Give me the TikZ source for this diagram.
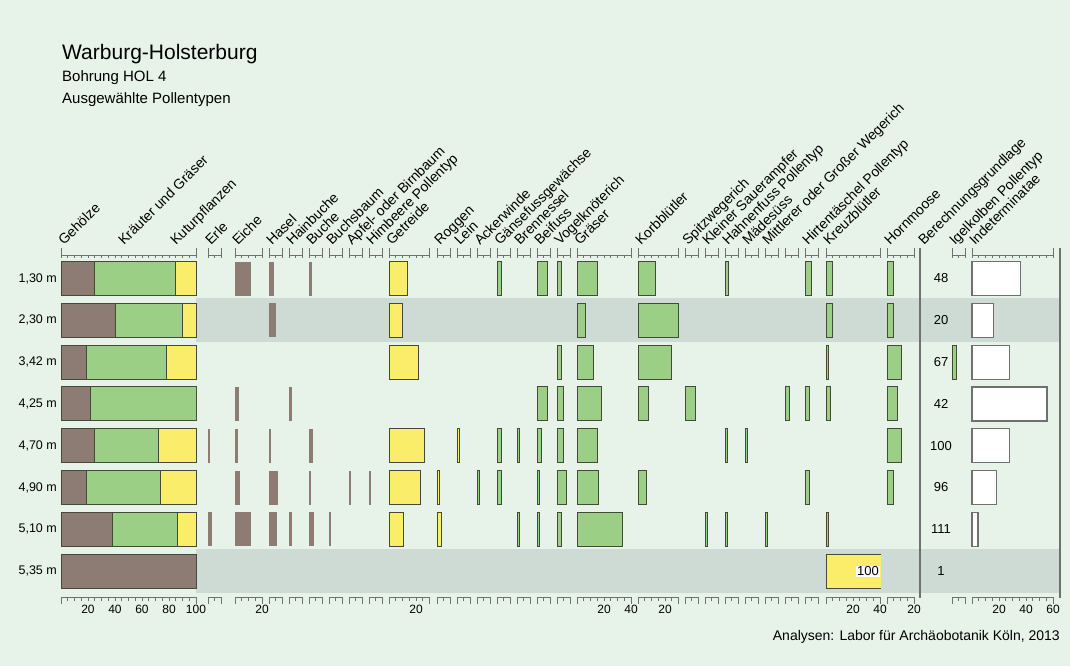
\documentclass[tikz,border=0pt]{standalone}
\usepackage{fontspec}
\setmainfont{Liberation Sans}
\definecolor{fondvert}{RGB}{231,243,233}
\definecolor{bande}{RGB}{206,219,213}
\definecolor{brun}{RGB}{140,124,116}
\definecolor{vert}{RGB}{156,207,134}
\definecolor{jaune}{RGB}{250,237,105}
\definecolor{contour}{RGB}{68,74,56}
\definecolor{gris}{RGB}{112,112,112}
\begin{document}
\begin{tikzpicture}[x=1pt,y=-1pt]
		% Styles (MODIFIABLES)
		\tikzstyle{geh}=[fill=brun,draw=contour,line width=0.9pt]
		\tikzstyle{arbre}=[fill=brun,draw=none]
		\tikzstyle{herbe}=[fill=vert,draw=contour,line width=0.9pt]
		\tikzstyle{culture}=[fill=jaune,draw=contour,line width=0.9pt]
		\tikzstyle{indet}=[fill=white,draw=gris,line width=1.2pt]
		\tikzstyle{axe}=[draw=gris,line width=0.7pt]
		\tikzstyle{separateur}=[draw=gris,line width=1.2pt]
		\tikzstyle{etiquette}=[rotate=45,anchor=base west,inner sep=0pt,font=\fontsize{14}{16}\selectfont]
		\tikzstyle{graduation}=[inner sep=0pt,font=\fontsize{12}{14}\selectfont]
		\tikzstyle{profondeur}=[anchor=east,inner sep=0pt,font=\fontsize{12.5}{14}\selectfont]
		\tikzstyle{nombre}=[inner sep=0pt,font=\fontsize{13}{15}\selectfont]
		% Dimensions (MODIFIABLES)
		\def\Echelle{1.35}
		\def\DemiHauteur{17}
		\def\AxeHaut{255}
		\def\AxeBas{597}
		\def\HautEtiquette{246}
		% Lignes (profondeurs)
		\def\LigneA{278.5}
		\def\LigneB{320.3}
		\def\LigneC{362.1}
		\def\LigneD{403.9}
		\def\LigneE{445.7}
		\def\LigneF{487.5}
		\def\LigneG{529.3}
		\def\LigneH{571.1}
		% Colonnes (pollentypes)
		\def\ColGeh{61}
		\def\ColErle{208}
		\def\ColEiche{235}
		\def\ColHasel{269}
		\def\ColHainbuche{289}
		\def\ColBuche{309}
		\def\ColBuchsbaum{329}
		\def\ColApfel{349}
		\def\ColHimbeere{369}
		\def\ColGetreide{389}
		\def\ColRoggen{437}
		\def\ColLein{457}
		\def\ColAckerwinde{477}
		\def\ColGaensefuss{497}
		\def\ColBrennessel{517}
		\def\ColBeifuss{537}
		\def\ColVogel{557}
		\def\ColGraeser{577}
		\def\ColKorb{638}
		\def\ColSpitz{685}
		\def\ColSauer{705}
		\def\ColHahnen{725}
		\def\ColMaedesuess{745}
		\def\ColWegerich{765}
		\def\ColSansNom{785}
		\def\ColHirten{805}
		\def\ColKreuz{826}
		\def\ColHorn{887}
		\def\ColIgel{952}
		\def\ColIndet{972}
		% Macros (NON MODIFIABLES)
		\def\Barre#1#2#3#4{\draw[#1] ({#2},{#4-\DemiHauteur}) rectangle ({#2+(#3)*\Echelle},{#4+\DemiHauteur});}
		\def\Pile#1#2#3{%
			\draw[geh] ({\ColGeh},{#1-\DemiHauteur}) rectangle ({\ColGeh+#2*\Echelle},{#1+\DemiHauteur});
			\draw[herbe] ({\ColGeh+#2*\Echelle},{#1-\DemiHauteur}) rectangle ({\ColGeh+#3*\Echelle},{#1+\DemiHauteur});
			\draw[culture] ({\ColGeh+#3*\Echelle},{#1-\DemiHauteur}) rectangle ({\ColGeh+100*\Echelle},{#1+\DemiHauteur});}
		\def\Axe#1#2{%
			\draw[axe] (#1,\AxeHaut) -- ({#1+#2*\Echelle},\AxeHaut);
			\draw[axe] (#1,\AxeBas) -- ({#1+#2*\Echelle},\AxeBas);
			\foreach \t in {0,5,...,#2}{%
				\draw[axe] ({#1+\t*\Echelle},\AxeHaut) -- ++(0,3);
				\draw[axe] ({#1+\t*\Echelle},\AxeBas) -- ++(0,4);}
			\draw[axe] (#1,{\AxeHaut-7}) -- ++(0,9);
			\draw[axe] ({#1+#2*\Echelle},{\AxeHaut-7}) -- ++(0,9);
			\draw[axe] (#1,\AxeBas) -- ++(0,7);
			\draw[axe] ({#1+#2*\Echelle},\AxeBas) -- ++(0,7);}
		% Fond et bandes
		\fill[fondvert] (0,0) rectangle (1070,666);
		\fill[bande] (196,{\LigneB-22}) rectangle (1059,{\LigneB+22});
		\fill[bande] (196,{\LigneH-22}) rectangle (1059,{\LigneH+22});
		% Titres
		\node[anchor=base west,inner sep=0pt,font=\fontsize{21}{24}\selectfont] (titre) at (62,60) {Warburg-Holsterburg};
		\node[anchor=base west,inner sep=0pt,font=\fontsize{15}{17}\selectfont] (bohrung) at (62,82) {Bohrung HOL 4};
		\node[anchor=base west,inner sep=0pt,font=\fontsize{15}{17}\selectfont] (auswahl) at (62,103) {Ausgewählte Pollentypen};
		\node[anchor=base east,inner sep=0pt,font=\fontsize{14}{16}\selectfont] (analysen) at (1060,640) {Analysen: Labor für Archäobotanik Köln, 2013};
		% Etiquettes des colonnes
		\node[etiquette] (eGeh) at (64,\HautEtiquette) {Gehölze};
		\node[etiquette] (eKraeuter) at (124,\HautEtiquette) {Kräuter und Gräser};
		\node[etiquette] (eKultur) at (176,\HautEtiquette) {Kuturpflanzen};
		\node[etiquette] (eErle) at ({\ColErle+3},\HautEtiquette) {Erle};
		\node[etiquette] (eEiche) at ({\ColEiche+3},\HautEtiquette) {Eiche};
		\node[etiquette] (eHasel) at ({\ColHasel+3},\HautEtiquette) {Hasel};
		\node[etiquette] (eHainbuche) at ({\ColHainbuche+3},\HautEtiquette) {Hainbuche};
		\node[etiquette] (eBuche) at ({\ColBuche+3},\HautEtiquette) {Buche};
		\node[etiquette] (eBuchsbaum) at ({\ColBuchsbaum+3},\HautEtiquette) {Buchsbaum};
		\node[etiquette] (eApfel) at ({\ColApfel+3},\HautEtiquette) {Apfel- oder Birnbaum};
		\node[etiquette] (eHimbeere) at ({\ColHimbeere+3},\HautEtiquette) {Himbeere Pollentyp};
		\node[etiquette] (eGetreide) at ({\ColGetreide+3},\HautEtiquette) {Getreide};
		\node[etiquette] (eRoggen) at ({\ColRoggen+3},\HautEtiquette) {Roggen};
		\node[etiquette] (eLein) at ({\ColLein+3},\HautEtiquette) {Lein};
		\node[etiquette] (eAckerwinde) at ({\ColAckerwinde+3},\HautEtiquette) {Ackerwinde};
		\node[etiquette] (eGaensefuss) at ({\ColGaensefuss+3},\HautEtiquette) {Gänsefussgewächse};
		\node[etiquette] (eBrennessel) at ({\ColBrennessel+3},\HautEtiquette) {Brennessel};
		\node[etiquette] (eBeifuss) at ({\ColBeifuss+3},\HautEtiquette) {Beifuss};
		\node[etiquette] (eVogel) at ({\ColVogel+3},\HautEtiquette) {Vogelknöterich};
		\node[etiquette] (eGraeser) at ({\ColGraeser+3},\HautEtiquette) {Gräser};
		\node[etiquette] (eKorb) at ({\ColKorb+3},\HautEtiquette) {Korbblütler};
		\node[etiquette] (eSpitz) at ({\ColSpitz+3},\HautEtiquette) {Spitzwegerich};
		\node[etiquette] (eSauer) at ({\ColSauer+3},\HautEtiquette) {Kleiner Sauerampfer};
		\node[etiquette] (eHahnen) at ({\ColHahnen+3},\HautEtiquette) {Hahnenfuss Pollentyp};
		\node[etiquette] (eMaedesuess) at ({\ColMaedesuess+3},\HautEtiquette) {Mädesüss};
		\node[etiquette] (eWegerich) at ({\ColWegerich+3},\HautEtiquette) {Mittlerer oder Großer Wegerich};
		\node[etiquette] (eHirten) at ({\ColHirten+3},\HautEtiquette) {Hirtentäschel Pollentyp};
		\node[etiquette] (eKreuz) at ({\ColKreuz+3},\HautEtiquette) {Kreuzblütler};
		\node[etiquette] (eHorn) at ({\ColHorn+3},\HautEtiquette) {Hornmoose};
		\node[etiquette] (eBerechnung) at (924,\HautEtiquette) {Berechnungsgrundlage};
		\node[etiquette] (eIgel) at ({\ColIgel+3},\HautEtiquette) {Igelkolben Pollentyp};
		\node[etiquette] (eIndet) at ({\ColIndet+3},\HautEtiquette) {Indeterminatae};
		% Axes
		\foreach \x/\w in {\ColGeh/100,\ColErle/10,\ColEiche/20,\ColHasel/10,\ColHainbuche/10,\ColBuche/10,\ColBuchsbaum/10,\ColApfel/10,\ColHimbeere/10,\ColGetreide/30,\ColRoggen/10,\ColLein/10,\ColAckerwinde/10,\ColGaensefuss/10,\ColBrennessel/10,\ColBeifuss/10,\ColVogel/10,\ColGraeser/40,\ColKorb/30,\ColSpitz/10,\ColSauer/10,\ColHahnen/10,\ColMaedesuess/10,\ColWegerich/10,\ColSansNom/10,\ColHirten/10,\ColKreuz/40,\ColHorn/20,\ColIgel/10,\ColIndet/60}{\Axe{\x}{\w}}
		\draw[separateur] (920,248) -- (920,598);
		\draw[separateur] (1060,248) -- (1060,598);
		% Graduations
		\node[graduation] (g1) at (88,609) {20};
		\node[graduation] (g2) at (115,609) {40};
		\node[graduation] (g3) at (142,609) {60};
		\node[graduation] (g4) at (169,609) {80};
		\node[graduation] (g5) at (196,609) {100};
		\node[graduation] (g6) at (262,609) {20};
		\node[graduation] (g7) at (416,609) {20};
		\node[graduation] (g8) at (604,609) {20};
		\node[graduation] (g9) at (631,609) {40};
		\node[graduation] (g10) at (665,609) {20};
		\node[graduation] (g11) at (853,609) {20};
		\node[graduation] (g12) at (880,609) {40};
		\node[graduation] (g13) at (914,609) {20};
		\node[graduation] (g14) at (999,609) {20};
		\node[graduation] (g15) at (1026,609) {40};
		\node[graduation] (g16) at (1053,609) {60};
		% Profondeurs
		\node[profondeur] (pA) at (57,\LigneA) {1,30 m};
		\node[profondeur] (pB) at (57,\LigneB) {2,30 m};
		\node[profondeur] (pC) at (57,\LigneC) {3,42 m};
		\node[profondeur] (pD) at (57,\LigneD) {4,25 m};
		\node[profondeur] (pE) at (57,\LigneE) {4,70 m};
		\node[profondeur] (pF) at (57,\LigneF) {4,90 m};
		\node[profondeur] (pG) at (57,\LigneG) {5,10 m};
		\node[profondeur] (pH) at (57,\LigneH) {5,35 m};
		% Berechnungsgrundlage
		\node[nombre] (nA) at (941,\LigneA) {48};
		\node[nombre] (nB) at (941,\LigneB) {20};
		\node[nombre] (nC) at (941,\LigneC) {67};
		\node[nombre] (nD) at (941,\LigneD) {42};
		\node[nombre] (nE) at (941,\LigneE) {100};
		\node[nombre] (nF) at (941,\LigneF) {96};
		\node[nombre] (nG) at (941,\LigneG) {111};
		\node[nombre] (nH) at (941,\LigneH) {1};
		% Ligne A : 1,30 m
		\Pile{\LigneA}{25}{85}
		\Barre{arbre}{\ColEiche}{12}{\LigneA}
		\Barre{arbre}{\ColHasel}{4}{\LigneA}
		\Barre{arbre}{\ColBuche}{2}{\LigneA}
		\Barre{culture}{\ColGetreide}{14}{\LigneA}
		\Barre{herbe}{\ColGaensefuss}{3}{\LigneA}
		\Barre{herbe}{\ColBeifuss}{7.5}{\LigneA}
		\Barre{herbe}{\ColVogel}{3}{\LigneA}
		\Barre{herbe}{\ColGraeser}{15.5}{\LigneA}
		\Barre{herbe}{\ColKorb}{13}{\LigneA}
		\Barre{herbe}{\ColHahnen}{2.5}{\LigneA}
		\Barre{herbe}{\ColHirten}{5}{\LigneA}
		\Barre{herbe}{\ColKreuz}{4.5}{\LigneA}
		\Barre{herbe}{\ColHorn}{5}{\LigneA}
		\Barre{indet}{\ColIndet}{36}{\LigneA}
		% Ligne B : 2,30 m
		\Pile{\LigneB}{40}{90}
		\Barre{arbre}{\ColHasel}{5}{\LigneB}
		\Barre{culture}{\ColGetreide}{10}{\LigneB}
		\Barre{herbe}{\ColGraeser}{6}{\LigneB}
		\Barre{herbe}{\ColKorb}{30}{\LigneB}
		\Barre{herbe}{\ColKreuz}{5}{\LigneB}
		\Barre{herbe}{\ColHorn}{5}{\LigneB}
		\Barre{indet}{\ColIndet}{16}{\LigneB}
		% Ligne C : 3,42 m
		\Pile{\LigneC}{18.5}{78}
		\Barre{culture}{\ColGetreide}{22}{\LigneC}
		\Barre{herbe}{\ColVogel}{3.5}{\LigneC}
		\Barre{herbe}{\ColGraeser}{12.5}{\LigneC}
		\Barre{herbe}{\ColKorb}{24.5}{\LigneC}
		\Barre{herbe}{\ColKreuz}{2}{\LigneC}
		\Barre{herbe}{\ColHorn}{11}{\LigneC}
		\Barre{herbe}{\ColIgel}{3.5}{\LigneC}
		\Barre{indet}{\ColIndet}{27.5}{\LigneC}
		% Ligne D : 4,25 m
		\Pile{\LigneD}{22}{100}
		\Barre{arbre}{\ColEiche}{3}{\LigneD}
		\Barre{arbre}{\ColHainbuche}{2.5}{\LigneD}
		\Barre{herbe}{\ColBeifuss}{8}{\LigneD}
		\Barre{herbe}{\ColVogel}{5}{\LigneD}
		\Barre{herbe}{\ColGraeser}{18}{\LigneD}
		\Barre{herbe}{\ColKorb}{7.5}{\LigneD}
		\Barre{herbe}{\ColSpitz}{8}{\LigneD}
		\Barre{herbe}{\ColSansNom}{3.5}{\LigneD}
		\Barre{herbe}{\ColHirten}{3.5}{\LigneD}
		\Barre{herbe}{\ColKreuz}{3}{\LigneD}
		\Barre{herbe}{\ColHorn}{8}{\LigneD}
		\Barre{indet}{\ColIndet}{55.5}{\LigneD}
		% Ligne E : 4,70 m
		\Pile{\LigneE}{25}{72.5}
		\Barre{arbre}{\ColErle}{1.5}{\LigneE}
		\Barre{arbre}{\ColEiche}{2.5}{\LigneE}
		\Barre{arbre}{\ColHasel}{1.5}{\LigneE}
		\Barre{arbre}{\ColBuche}{3}{\LigneE}
		\Barre{culture}{\ColGetreide}{26}{\LigneE}
		\Barre{culture}{\ColLein}{1.5}{\LigneE}
		\Barre{herbe}{\ColGaensefuss}{3}{\LigneE}
		\Barre{herbe}{\ColBrennessel}{1.5}{\LigneE}
		\Barre{herbe}{\ColBeifuss}{3}{\LigneE}
		\Barre{herbe}{\ColVogel}{4.5}{\LigneE}
		\Barre{herbe}{\ColGraeser}{15.5}{\LigneE}
		\Barre{herbe}{\ColHahnen}{1.5}{\LigneE}
		\Barre{herbe}{\ColMaedesuess}{1.5}{\LigneE}
		\Barre{herbe}{\ColHorn}{11}{\LigneE}
		\Barre{indet}{\ColIndet}{28}{\LigneE}
		% Ligne F : 4,90 m
		\Pile{\LigneF}{19}{74}
		\Barre{arbre}{\ColEiche}{4}{\LigneF}
		\Barre{arbre}{\ColHasel}{7}{\LigneF}
		\Barre{arbre}{\ColBuche}{1.5}{\LigneF}
		\Barre{arbre}{\ColApfel}{1.5}{\LigneF}
		\Barre{arbre}{\ColHimbeere}{1.5}{\LigneF}
		\Barre{culture}{\ColGetreide}{23}{\LigneF}
		\Barre{culture}{\ColRoggen}{1.5}{\LigneF}
		\Barre{herbe}{\ColAckerwinde}{1.5}{\LigneF}
		\Barre{herbe}{\ColGaensefuss}{3}{\LigneF}
		\Barre{herbe}{\ColBeifuss}{1.5}{\LigneF}
		\Barre{herbe}{\ColVogel}{7}{\LigneF}
		\Barre{herbe}{\ColGraeser}{16}{\LigneF}
		\Barre{herbe}{\ColKorb}{6}{\LigneF}
		\Barre{herbe}{\ColHirten}{3}{\LigneF}
		\Barre{herbe}{\ColHorn}{5}{\LigneF}
		\Barre{indet}{\ColIndet}{18}{\LigneF}
		% Ligne G : 5,10 m
		\Pile{\LigneG}{38}{86}
		\Barre{arbre}{\ColErle}{3}{\LigneG}
		\Barre{arbre}{\ColEiche}{11.5}{\LigneG}
		\Barre{arbre}{\ColHasel}{6}{\LigneG}
		\Barre{arbre}{\ColHainbuche}{2}{\LigneG}
		\Barre{arbre}{\ColBuche}{3.5}{\LigneG}
		\Barre{arbre}{\ColBuchsbaum}{1.5}{\LigneG}
		\Barre{culture}{\ColGetreide}{11}{\LigneG}
		\Barre{culture}{\ColRoggen}{3}{\LigneG}
		\Barre{herbe}{\ColBrennessel}{2}{\LigneG}
		\Barre{herbe}{\ColBeifuss}{1.5}{\LigneG}
		\Barre{herbe}{\ColVogel}{3}{\LigneG}
		\Barre{herbe}{\ColGraeser}{34}{\LigneG}
		\Barre{herbe}{\ColSauer}{1.5}{\LigneG}
		\Barre{herbe}{\ColHahnen}{1.5}{\LigneG}
		\Barre{herbe}{\ColWegerich}{1.5}{\LigneG}
		\Barre{herbe}{\ColKreuz}{1.5}{\LigneG}
		\Barre{indet}{\ColIndet}{4.5}{\LigneG}
		% Ligne H : 5,35 m
		\draw[geh] ({\ColGeh},{\LigneH-\DemiHauteur}) rectangle ({\ColGeh+100*\Echelle},{\LigneH+\DemiHauteur});
		\fill[jaune] ({\ColKreuz},{\LigneH-\DemiHauteur}) rectangle (881,{\LigneH+\DemiHauteur});
		\draw[contour,line width=0.9pt] (881,{\LigneH-\DemiHauteur}) -- ({\ColKreuz},{\LigneH-\DemiHauteur}) -- ({\ColKreuz},{\LigneH+\DemiHauteur}) -- (881,{\LigneH+\DemiHauteur});
		\node[nombre,fill=white,inner sep=1pt,anchor=east] (kreuzH) at (880,\LigneH) {100};
	\end{tikzpicture}
\end{document}
